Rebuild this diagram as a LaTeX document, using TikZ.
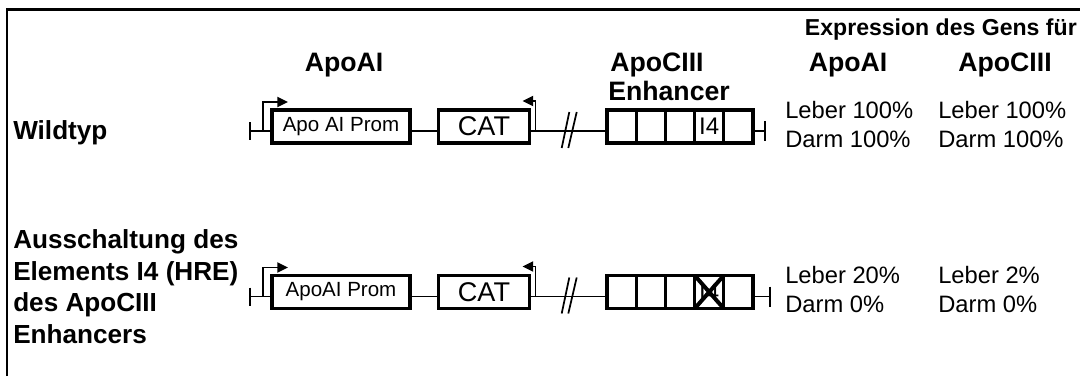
\documentclass[tikz,border=0pt]{standalone}
\usepackage{fontspec}
\setmainfont{Liberation Sans}
\usetikzlibrary{positioning,arrows.meta}

\tikzset{
  frame/.style={line width=2pt},
  gene/.style={draw, line width=2.5pt, inner sep=0pt, outer sep=0pt, minimum height=24.9pt},
  prom/.style={gene, minimum width=103.5pt, font=\fontsize{15.4}{18}\selectfont},
  catbox/.style={gene, minimum width=68.3pt, font=\fontsize{20.3}{24}\selectfont},
  cell/.style={gene, minimum width=21.9pt, font=\fontsize{18}{21}\selectfont},
  dna/.style={line width=1.3pt},
  tss/.style={line width=1.4pt, -{Triangle[length=8pt,width=7.5pt]}},
  knockout/.style={line width=3pt},
  head/.style={inner sep=0pt, font=\fontsize{20}{24}\selectfont\bfseries},
  exphead/.style={inner sep=0pt, font=\fontsize{17.3}{21}\selectfont\bfseries},
  rowlabel/.style={inner sep=0pt, align=left, font=\fontsize{19.6}{23.6}\selectfont\bfseries},
  expr/.style={inner sep=0pt, align=left, font=\fontsize{17.8}{21.75}\selectfont}
}

\begin{document}
\begin{tikzpicture}[x=0.75pt,y=-0.75pt]
  \useasboundingbox (0,0) rectangle (1080,376);
  % Rahmen
  \draw[frame] (7,376) -- (7,9.5) -- (1080,9.5);

  % Kopfzeile
  \node[head, anchor=base] (hapoai) at (344,71) {ApoAI};
  \node[head, anchor=base west] (hapoc) at (610,71) {ApoCIII};
  \node[head, anchor=base west] (henh) at (608,100) {Enhancer};
  \node[exphead, anchor=base east] (hexp) at (1077,35) {Expression des Gens für};
  \node[head, anchor=base] (hcola) at (848,71) {ApoAI};
  \node[head, anchor=base] (hcolc) at (1005,71) {ApoCIII};

  % Wildtyp
  \node[rowlabel, anchor=base west] (lwild) at (13,139) {Wildtyp};
  \coordinate (l1) at (250,131);
  \coordinate (r1) at (765,131);
  \coordinate (b1) at (569,131);
  \node[prom] (prom1) at (341,126.5) {Apo AI Prom};
  \node[catbox] (cat1) at (484,126.5) {CAT};
  \node[cell] (e1a) at (621.6,126.5) {};
  \node[cell, right=0pt of e1a] (e1b) {};
  \node[cell, right=0pt of e1b] (e1c) {};
  \node[cell, right=0pt of e1c] (e1d) {I4};
  \node[cell, right=0pt of e1d] (e1e) {};
  \draw[dna] (l1) -- (l1 -| prom1.west);
  \draw[dna] (l1 -| prom1.east) -- (l1 -| cat1.west);
  \draw[dna] (l1 -| cat1.east) -- (l1 -| e1a.west);
  \draw[dna] (l1 -| e1e.east) -- (r1);
  \draw[dna] (l1) ++(0,-9) -- ++(0,18);
  \draw[dna] (r1) ++(0,-10) -- ++(0,20);
  \draw[dna] (b1) ++(-7.3,17) -- ++(7.6,-36);
  \draw[dna] (b1) ++(-0.7,17) -- ++(8.4,-36);
  \draw[tss] (l1) ++(13,0) |- ++(25,-29);
  \draw[tss] (l1 -| cat1.east) ++(6,0) |- ++(-13,-30);
  % base = letzte Zeile
  \node[expr, anchor=base west] (w1a) at (785,147) {Leber 100\%\\Darm 100\%};
  \node[expr, anchor=base west] (w1c) at (938,147) {Leber 100\%\\Darm 100\%};

  % Ausschaltung von I4
  \node[rowlabel, anchor=base west] (lko) at (13,343)
    {Ausschaltung des\\Elements I4 (HRE)\\des ApoCIII\\Enhancers};
  \coordinate (l2) at (250,296.5);
  \coordinate (r2) at (770,296.5);
  \coordinate (b2) at (569,296.5);
  \node[prom] (prom2) at (341,292) {ApoAI Prom};
  \node[catbox] (cat2) at (484,292) {CAT};
  \node[cell] (e2a) at (621.6,292) {};
  \node[cell, right=0pt of e2a] (e2b) {};
  \node[cell, right=0pt of e2b] (e2c) {};
  \node[cell, right=0pt of e2c] (e2d) {I4};
  \node[cell, right=0pt of e2d] (e2e) {};
  \draw[knockout] (e2d.north west) -- (e2d.south east);
  \draw[knockout] (e2d.north east) -- (e2d.south west);
  \draw[dna] (l2) -- (l2 -| prom2.west);
  \draw[dna] (l2 -| prom2.east) -- (l2 -| cat2.west);
  \draw[dna] (l2 -| cat2.east) -- (l2 -| e2a.west);
  \draw[dna] (l2 -| e2e.east) -- (r2);
  \draw[dna] (l2) ++(0,-9) -- ++(0,18);
  \draw[dna] (r2) ++(0,-10) -- ++(0,20);
  \draw[dna] (b2) ++(-7.3,17) -- ++(7.6,-36);
  \draw[dna] (b2) ++(-0.7,17) -- ++(8.4,-36);
  \draw[tss] (l2) ++(13,0) |- ++(25,-29);
  \draw[tss] (l2 -| cat2.east) ++(6,0) |- ++(-13,-30);
  \node[expr, anchor=base west] (w2a) at (785,312) {Leber 20\%\\Darm 0\%};
  \node[expr, anchor=base west] (w2c) at (938,312) {Leber 2\%\\Darm 0\%};
\end{tikzpicture}
\end{document}
